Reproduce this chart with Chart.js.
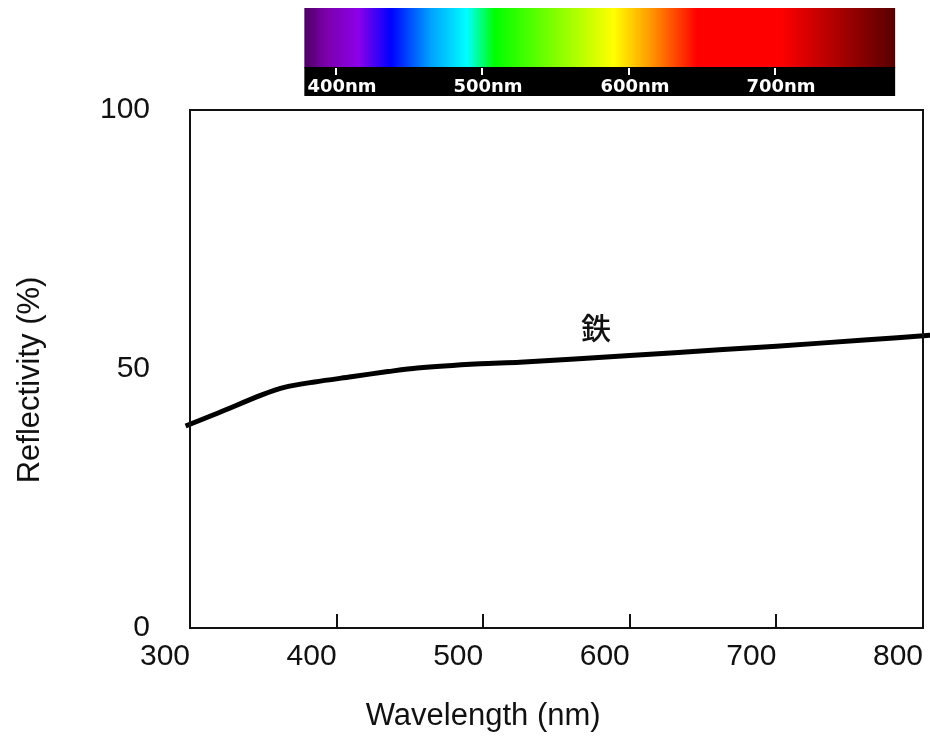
<!DOCTYPE html>
<html>
<head>
<meta charset="utf-8">
<script src="https://cdn.jsdelivr.net/npm/chart.js@4/dist/chart.umd.min.js"></script>
<style>
  html, body { margin: 0; padding: 0; background: #fff; }
  #wrap { width: 930px; height: 736px; }
</style>
</head>
<body>
<div id="wrap"><canvas id="chart" width="930" height="736"></canvas></div>
<script>
// Reflectivity of iron vs wavelength
const wavelengths = [297, 320, 349, 365, 385, 410, 435, 455, 498, 525, 600, 661, 700, 760, 805];
const reflectivity = [39.0, 41.6, 45.0, 46.5, 47.5, 48.5, 49.5, 50.2, 51.0, 51.3, 52.6, 53.7, 54.4, 55.6, 56.5];
const seriesLabel = '鉄';
const seriesLabelAt = [577, 58];

const xTicks = [300, 400, 500, 600, 700, 800];
const yTicks = [0, 50, 100];
const xTitle = 'Wavelength (nm)';
const yTitle = 'Reflectivity (%)';

// spectrum strip above the plot
const spectrumWl = [378, 392, 415, 437, 464, 489, 508, 589, 614, 646, 703, 781];
const spectrumColors = ['#4b0062', '#7a00a8', '#8c00e8', '#0000ff', '#00a0ff', '#00ffff', '#00ff00', '#ffff00', '#ff9900', '#ff0000', '#ff0000', '#580000'];
const spectrumTicks = [400, 500, 600, 700];

const FONT = '"Liberation Sans", Arial, sans-serif';

const framePlugin = {
  id: 'frame',
  beforeDraw(chart) {
    const ctx = chart.ctx;
    const x = chart.scales.x;
    const x0 = x.getPixelForValue(spectrumWl[0]);
    const x1 = x.getPixelForValue(spectrumWl[spectrumWl.length - 1]);
    ctx.save();
    const grad = ctx.createLinearGradient(x0, 0, x1, 0);
    spectrumWl.forEach((wl, i) => {
      grad.addColorStop((wl - spectrumWl[0]) / (spectrumWl[spectrumWl.length - 1] - spectrumWl[0]), spectrumColors[i]);
    });
    ctx.fillStyle = grad;
    ctx.fillRect(x0, 8, x1 - x0, 60);
    ctx.fillStyle = '#000';
    ctx.fillRect(x0, 67, x1 - x0, 29);
    ctx.fillStyle = '#fff';
    ctx.strokeStyle = '#fff';
    ctx.lineWidth = 2;
    ctx.font = 'bold 18px "DejaVu Sans", sans-serif';
    ctx.textAlign = 'center';
    ctx.textBaseline = 'alphabetic';
    spectrumTicks.forEach(wl => {
      const px = Math.round(x.getPixelForValue(wl)) - 1;
      ctx.beginPath();
      ctx.moveTo(px, 68);
      ctx.lineTo(px, 75);
      ctx.stroke();
      ctx.fillText(wl + 'nm', px + 6, 92);
    });
    ctx.restore();
  },
  afterDraw(chart) {
    const ctx = chart.ctx;
    const a = chart.chartArea;
    const x = chart.scales.x;
    ctx.save();
    ctx.strokeStyle = '#111';
    ctx.lineWidth = 2;
    ctx.strokeRect(a.left, a.top, a.right - a.left, a.bottom - a.top);
    // inner tick marks
    xTicks.slice(1, -1).forEach(v => {
      const px = Math.round(x.getPixelForValue(v));
      ctx.beginPath();
      ctx.moveTo(px, a.bottom);
      ctx.lineTo(px, a.bottom - 14);
      ctx.stroke();
    });
    // series label
    ctx.fillStyle = '#111';
    ctx.font = '500 30px "Noto Sans CJK JP", sans-serif';
    ctx.textAlign = 'center';
    ctx.textBaseline = 'middle';
    ctx.fillText(seriesLabel, x.getPixelForValue(seriesLabelAt[0]), chart.scales.y.getPixelForValue(seriesLabelAt[1]));
    // x axis title
    ctx.font = '31px ' + FONT;
    ctx.fillText(xTitle, x.getPixelForValue(500), 716);
    // y axis title
    ctx.translate(30, 380);
    ctx.rotate(-Math.PI / 2);
    ctx.fillText(yTitle, 0, 0);
    ctx.restore();
  }
};

new Chart(document.getElementById('chart'), {
  type: 'line',
  data: {
    datasets: [{
      label: seriesLabel,
      data: wavelengths.map((w, i) => ({ x: w, y: reflectivity[i] })),
      borderColor: '#000',
      borderWidth: 5,
      pointRadius: 0,
      tension: 0.3,
      clip: false
    }]
  },
  options: {
    responsive: false,
    animation: false,
    layout: { padding: { top: 110, right: 7, left: 0, bottom: 0 } },
    plugins: { legend: { display: false }, tooltip: { enabled: false } },
    scales: {
      x: {
        type: 'linear', min: 300, max: 800,
        afterBuildTicks: s => { s.ticks = xTicks.map(v => ({ value: v })); },
        afterFit: s => { s.height = 108; s.paddingLeft = 0; s.paddingRight = 0; },
        grid: { display: false, drawTicks: false },
        border: { display: false },
        ticks: { align: 'end', padding: 11, color: '#111', font: { size: 30, family: FONT } }
      },
      y: {
        min: 0, max: 100,
        afterBuildTicks: s => { s.ticks = yTicks.map(v => ({ value: v })); },
        afterFit: s => { s.width = 190; s.paddingTop = 0; s.paddingBottom = 0; },
        grid: { display: false, drawTicks: false },
        border: { display: false },
        ticks: { padding: 40, color: '#111', font: { size: 30, family: FONT } }
      }
    }
  },
  plugins: [framePlugin]
});
</script>
</body>
</html>
